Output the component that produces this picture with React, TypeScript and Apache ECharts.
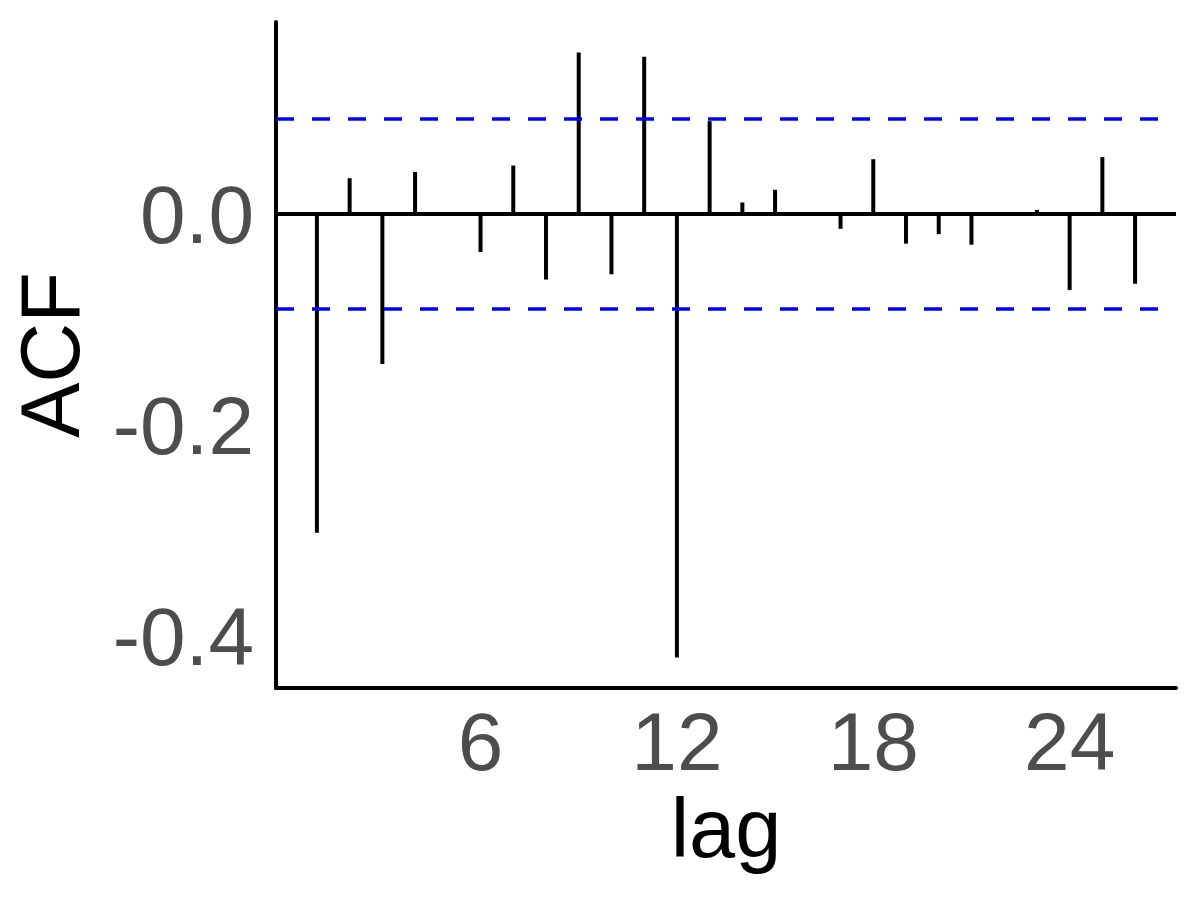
import React, { useEffect, useRef } from "react";
import * as echarts from "echarts";

const lags = [1, 2, 3, 4, 5, 6, 7, 8, 9, 10, 11, 12, 13, 14, 15, 16, 17, 18, 19, 20, 21, 22, 23, 24, 25, 26];
const acf = [
  -0.302, 0.034, -0.142, 0.040, 0.0, -0.036, 0.046, -0.062, 0.153, -0.057, 0.149, -0.420, 0.088,
  0.011, 0.023, 0.0, -0.014, 0.052, -0.028, -0.019, -0.029, 0.0, 0.004, -0.072, 0.054, -0.066,
];
const ciBound = 0.092;
const xTicks = [6, 12, 18, 24];
const yTicks = [-0.4, -0.2, 0.0];

const FONT = "'Liberation Sans', Arial, Helvetica, sans-serif";

export default function App() {
  const ref = useRef<HTMLDivElement>(null);
  useEffect(() => {
    if (!ref.current) return;
    const chart = echarts.init(ref.current, null, { renderer: "svg" });
    const data = lags.map((l, i) => [l, acf[i]]);
    chart.setOption({
      animation: false,
      backgroundColor: "#ffffff",
      grid: { left: 276, right: 24, top: 22, bottom: 212, containLabel: false },
      xAxis: {
        type: "value",
        min: -0.25,
        max: 27.25,
        name: "lag",
        nameLocation: "middle",
        nameGap: 96,
        nameTextStyle: { fontSize: 83, color: "#000000", fontFamily: FONT },
        axisLine: { show: true, onZero: false, lineStyle: { color: "#000000", width: 4 } },
        axisTick: { show: false },
        splitLine: { show: false },
        axisLabel: {
          customValues: xTicks,
          fontSize: 82,
          color: "#4D4D4D",
          fontFamily: FONT,
          margin: 12,
          formatter: (v: number) => String(v),
        },
      },
      yAxis: {
        type: "value",
        min: -0.449,
        max: 0.182,
        name: "ACF",
        nameLocation: "middle",
        nameGap: 184,
        nameTextStyle: { fontSize: 83, color: "#000000", fontFamily: FONT },
        axisLine: { show: true, onZero: false, lineStyle: { color: "#000000", width: 4 } },
        axisTick: { show: false },
        splitLine: { show: false },
        axisLabel: {
          customValues: yTicks,
          fontSize: 82,
          color: "#4D4D4D",
          fontFamily: FONT,
          margin: 22,
          formatter: (v: number) => v.toFixed(1),
        },
      },
      series: [
        {
          type: "custom",
          data,
          renderItem: (params: any, api: any) => {
            const x = api.value(0);
            const y = api.value(1);
            const p0 = api.coord([x, 0]);
            const p1 = api.coord([x, y]);
            return {
              type: "line",
              shape: { x1: p0[0], y1: p0[1], x2: p1[0], y2: p1[1] },
              style: { stroke: "#000000", lineWidth: 4 },
            };
          },
          markLine: {
            silent: true,
            symbol: "none",
            label: { show: false },
            data: [
              { yAxis: 0, lineStyle: { color: "#000000", width: 4, type: "solid" } },
              { yAxis: ciBound, lineStyle: { color: "#0000FF", width: 3.5, type: [18, 18] } },
              { yAxis: -ciBound, lineStyle: { color: "#0000FF", width: 3.5, type: [18, 18] } },
            ],
          },
        },
      ],
    });
    return () => chart.dispose();
  }, []);
  return (
    <div
      ref={ref}
      style={{ position: "fixed", left: 0, top: 0, width: 1200, height: 900, background: "#fff" }}
    />
  );
}
